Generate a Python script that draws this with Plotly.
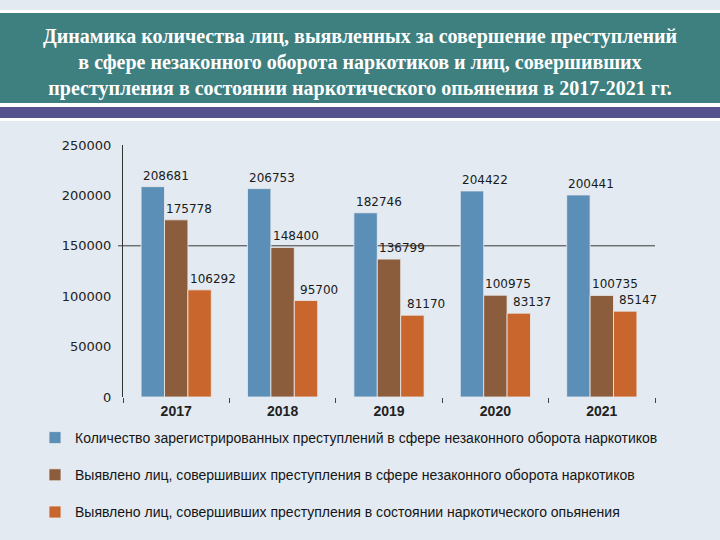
import plotly.graph_objects as go

years = ["2017", "2018", "2019", "2020", "2021"]
registered = [208681, 206753, 182746, 204422, 200441]
detected = [175778, 148400, 136799, 100975, 100735]
intoxicated = [106292, 95700, 81170, 83137, 85147]

series_names = [
    "Количество зарегистрированных преступлений в сфере незаконного оборота наркотиков",
    "Выявлено лиц, совершивших преступления в сфере незаконного оборота наркотиков",
    "Выявлено лиц, совершивших преступления в состоянии наркотического опьянения",
]
series_values = [registered, detected, intoxicated]
colors = ["#5b8fb8", "#8b5d3d", "#c8662e"]

title_text = ("Динамика количества лиц, выявленных за совершение преступлений<br>"
              "в сфере незаконного оборота наркотиков и лиц, совершивших<br>"
              "преступления в состоянии наркотического опьянения в 2017-2021 гг.")

BG = "#e3eaf1"
fig = go.Figure()
for i, (name, vals, col) in enumerate(zip(series_names, series_values, colors)):
    fig.add_trace(go.Bar(
        x=years, y=vals, name=name, marker_color=col,
        marker_line=dict(color="rgba(235,235,235,0.8)", width=1),
        legendgroup=f"g{i}",
    ))

# data labels (x given as category index)
annotations = []
for i, vals in enumerate(series_values):
    for j, v in enumerate(vals):
        annotations.append(dict(
            x=j, y=v, text=str(v), showarrow=False,
            xshift=(i - 1) * 23.5 + 13, yshift=11, yanchor="middle",
            font=dict(family="DejaVu Sans", size=12, color="#1a1a1a"),
        ))

# page decorations (paper coordinates relative to the plot area)
L, R, T, B = 123, 65, 145, 143
PW, PH = 720 - L - R, 540 - T - B

def px_x(p):
    return (p - L) / PW

def px_y(p):
    return (540 - B - p) / PH

shapes = [
    dict(type="rect", xref="paper", yref="paper", x0=px_x(0), x1=px_x(720),
         y0=px_y(13), y1=px_y(10), fillcolor="white", line_width=0, layer="below"),
    dict(type="rect", xref="paper", yref="paper", x0=px_x(0), x1=px_x(720),
         y0=px_y(103), y1=px_y(13), fillcolor="#3e7f80", line_width=0, layer="below"),
    dict(type="rect", xref="paper", yref="paper", x0=px_x(0), x1=px_x(720),
         y0=px_y(121), y1=px_y(103), fillcolor="white", line_width=0, layer="below"),
    dict(type="rect", xref="paper", yref="paper", x0=px_x(0), x1=px_x(720),
         y0=px_y(118), y1=px_y(107), fillcolor="#55528c", line_width=0, layer="below"),
    dict(type="line", xref="paper", yref="y", x0=px_x(118), x1=1.0,
         y0=150000, y1=150000, line=dict(color="#3a3a3a", width=1), layer="below"),
]

fig.update_layout(
    width=720, height=540,
    margin=dict(l=L, r=R, t=T, b=B, autoexpand=False),
    paper_bgcolor=BG, plot_bgcolor=BG,
    barmode="group", bargap=0.34, bargroupgap=0,
    title=dict(text=title_text, x=0.5, xref="container", xanchor="center",
               y=1 - 43 / 540, yref="container", yanchor="middle",
               font=dict(family="Liberation Serif", size=20, color="white", weight="bold")),
    annotations=annotations,
    shapes=shapes,
    showlegend=True,
    legend=dict(
        x=35 / 720, xref="container", xanchor="left",
        y=1 - 422 / 540, yref="container", yanchor="top",
        bgcolor="rgba(0,0,0,0)", tracegroupgap=16,
        font=dict(family="Liberation Sans", size=14, color="#151515"),
        traceorder="grouped",
    ),
    xaxis=dict(
        type="category", range=[-0.5, len(years) - 0.5],
        showline=False, showgrid=False, ticks="outside", tickson="boundaries",
        ticklen=5, tickcolor="#444444", ticklabelstandoff=4,
        tickfont=dict(family="Liberation Sans", size=14, color="#222222", weight="bold"),
    ),
    yaxis=dict(
        range=[0, 250000], tickvals=[0, 50000, 100000, 150000, 200000, 250000],
        showgrid=False, zeroline=False, showline=True, linecolor="#333333", linewidth=1,
        ticks="", ticklabelstandoff=8,
        tickfont=dict(family="DejaVu Sans", size=13, color="#222222"),
        tickformat="d",
    ),
)

fig.write_html("out.html", config={"displayModeBar": False},
               post_script="document.body.style.margin='0';document.body.style.background='#e3eaf1';")
